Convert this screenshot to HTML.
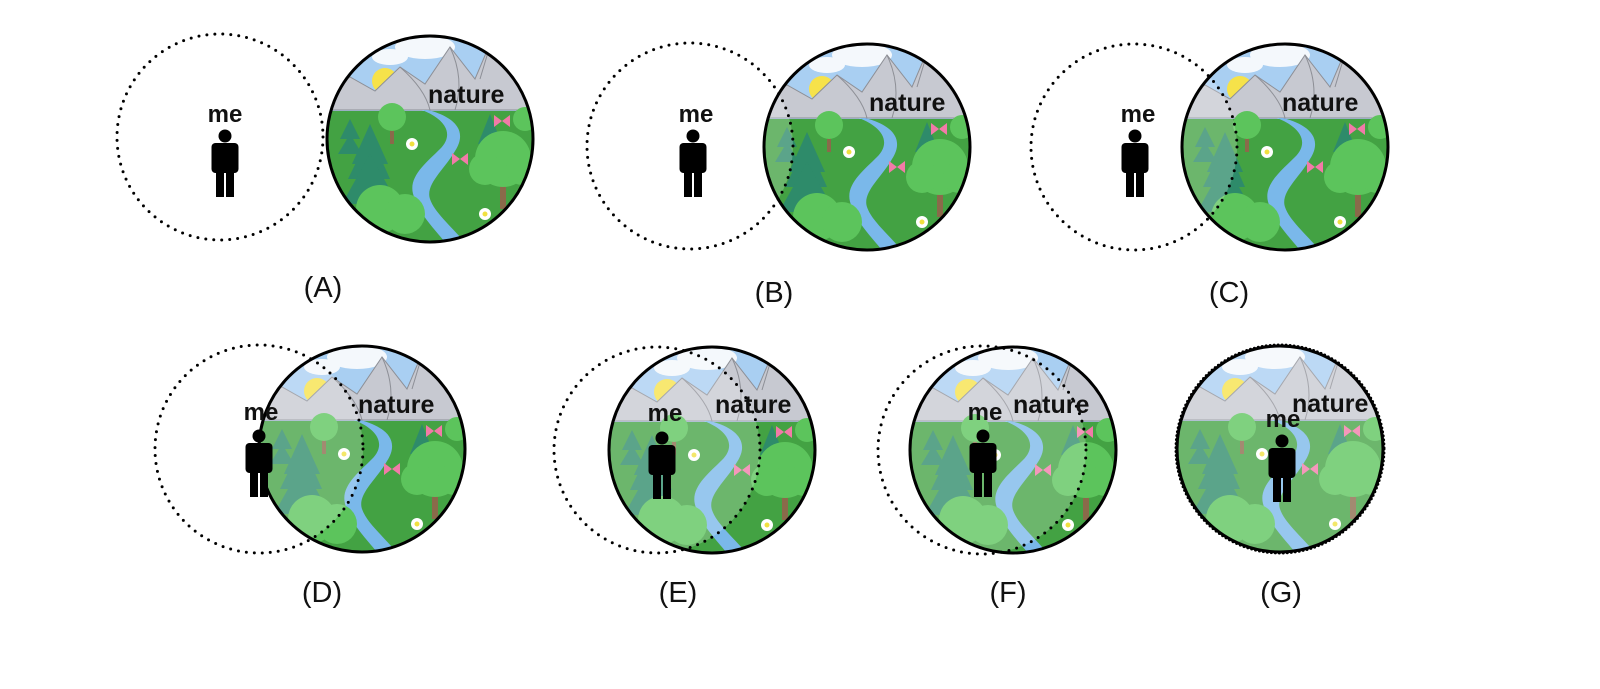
<!DOCTYPE html>
<html><head><meta charset="utf-8"><style>
html,body{margin:0;padding:0;background:#fff;}
svg{display:block;}
text{font-family:"Liberation Sans",Arial,sans-serif;}
.t{font-weight:bold;font-size:24px;fill:#111;}
.n{font-weight:bold;font-size:25px;fill:#111;}
.l{font-size:29px;fill:#111;}
</style></head><body>
<svg width="1600" height="689" viewBox="0 0 1600 689" xmlns="http://www.w3.org/2000/svg">
<defs>
<clipPath id="cc"><circle cx="0" cy="0" r="103"/></clipPath>
<g id="nat">
 <g clip-path="url(#cc)">
  <rect x="-110" y="-110" width="220" height="220" fill="#43a243"/>
  <rect x="-110" y="-110" width="220" height="82" fill="#a9cff2"/>
  <ellipse cx="-5" cy="-92" rx="30" ry="12" fill="#f4f8fc"/>
  <ellipse cx="-40" cy="-82" rx="18" ry="8" fill="#f4f8fc"/>
  <circle cx="-45" cy="-58" r="13" fill="#f6e24a"/>
  <polygon points="-110,-45 -80,-62 -55,-48 -30,-72 -5,-55 20,-92 45,-60 62,-100 90,-80 110,-60 110,-29 -110,-29" fill="#c7c9d1" stroke="#8d8f96" stroke-width="1"/>
  <path d="M-30,-72 Q-5,-50 0,-29 M20,-92 Q35,-60 25,-29 M62,-100 L50,-60" stroke="#8d8f96" fill="none"/>
  <path d="M-8,-29 C15,-20 25,-5 10,10 C-5,25 -25,40 -15,60 C-8,80 10,95 20,110 L40,110 C25,90 5,75 0,60 C-5,45 15,30 25,12 C38,-8 25,-22 -2,-29 Z" fill="#7ab8ea"/>
  <rect x="-40" y="-20" width="4" height="25" fill="#8a6a4a"/>
  <circle cx="-38" cy="-22" r="14" fill="#5cc45c"/>
  <polygon points="-80,-5 -92,15 -68,15" fill="#2e8b6a"/>
  <polygon points="-80,-20 -90,0 -70,0" fill="#2e8b6a"/>
  <polygon points="-60,-5 -82,40 -50,40 -40,40" fill="#2e8b6a"/>
  <polygon points="-60,-15 -78,25 -42,25" fill="#2e8b6a"/>
  <polygon points="-60,15 -88,65 -32,65" fill="#2e8b6a"/>
  <polygon points="60,-25 48,5 72,5" fill="#2e8b6a"/>
  <polygon points="60,-10 45,20 75,20" fill="#2e8b6a"/>
  <rect x="70" y="20" width="6" height="50" fill="#8a6a4a"/>
  <circle cx="73" cy="20" r="28" fill="#5cc45c"/>
  <circle cx="55" cy="30" r="16" fill="#5cc45c"/>
  <circle cx="92" cy="30" r="16" fill="#5cc45c"/>
  <circle cx="95" cy="-20" r="12" fill="#5cc45c"/>
  <circle cx="-50" cy="70" r="24" fill="#5cc45c"/>
  <circle cx="-25" cy="75" r="20" fill="#5cc45c"/>
  <circle cx="-18" cy="5" r="6" fill="#fff"/><circle cx="-18" cy="5" r="2.5" fill="#f0e040"/>
  <circle cx="55" cy="75" r="6" fill="#fff"/><circle cx="55" cy="75" r="2.5" fill="#f0e040"/>
  <path d="M72,-18 l-8,-6 l0,12 z M72,-18 l8,-6 l0,12 z" fill="#f27aa8"/>
  <path d="M30,20 l-8,-6 l0,12 z M30,20 l8,-6 l0,12 z" fill="#f27aa8"/>
 </g>
</g>
<g id="per">
 <circle cx="0" cy="6" r="6.5" fill="#000"/>
 <rect x="-13.5" y="13" width="27" height="30" rx="4" fill="#000"/>
 <rect x="-9" y="38" width="8" height="29" fill="#000"/>
 <rect x="1" y="38" width="8" height="29" fill="#000"/>
</g>
</defs>

<!-- A -->
<use href="#nat" x="430" y="139"/>
<circle cx="430" cy="139" r="103" fill="none" stroke="#000" stroke-width="3"/>
<circle cx="220" cy="137" r="103" fill="none" stroke="#000" stroke-width="3" stroke-dasharray="0 8" stroke-linecap="round"/>
<text class="t" x="225" y="122" text-anchor="middle">me</text>
<use href="#per" x="225" y="130"/>
<text class="n" x="428" y="103">nature</text>
<text class="l" x="323" y="297" text-anchor="middle">(A)</text>

<!-- B -->
<use href="#nat" x="867" y="147"/>
<circle cx="690" cy="146" r="103" fill="#fff" fill-opacity="0.22" clip-path="url(#cB)"/>
<clipPath id="cB"><circle cx="867" cy="147" r="103"/></clipPath>
<circle cx="867" cy="147" r="103" fill="none" stroke="#000" stroke-width="3"/>
<circle cx="690" cy="146" r="103" fill="none" stroke="#000" stroke-width="3" stroke-dasharray="0 8" stroke-linecap="round"/>
<text class="t" x="696" y="122" text-anchor="middle">me</text>
<use href="#per" x="693" y="130"/>
<text class="n" x="869" y="111">nature</text>
<text class="l" x="774" y="302" text-anchor="middle">(B)</text>

<!-- C -->
<clipPath id="cC"><circle cx="1285" cy="147" r="103"/></clipPath>
<use href="#nat" x="1285" y="147"/>
<circle cx="1134" cy="147" r="103" fill="#fff" fill-opacity="0.22" clip-path="url(#cC)"/>
<circle cx="1285" cy="147" r="103" fill="none" stroke="#000" stroke-width="3"/>
<circle cx="1134" cy="147" r="103" fill="none" stroke="#000" stroke-width="3" stroke-dasharray="0 8" stroke-linecap="round"/>
<text class="t" x="1138" y="122" text-anchor="middle">me</text>
<use href="#per" x="1135" y="130"/>
<text class="n" x="1282" y="111">nature</text>
<text class="l" x="1229" y="302" text-anchor="middle">(C)</text>

<!-- D -->
<clipPath id="cD"><circle cx="362" cy="449" r="103"/></clipPath>
<use href="#nat" x="362" y="449"/>
<circle cx="259" cy="449" r="104" fill="#fff" fill-opacity="0.22" clip-path="url(#cD)"/>
<circle cx="362" cy="449" r="103" fill="none" stroke="#000" stroke-width="3"/>
<circle cx="259" cy="449" r="104" fill="none" stroke="#000" stroke-width="3" stroke-dasharray="0 8" stroke-linecap="round"/>
<text class="t" x="261" y="420" text-anchor="middle">me</text>
<use href="#per" x="259" y="430"/>
<text class="n" x="358" y="413">nature</text>
<text class="l" x="322" y="602" text-anchor="middle">(D)</text>

<!-- E -->
<clipPath id="cE"><circle cx="712" cy="450" r="103"/></clipPath>
<use href="#nat" x="712" y="450"/>
<circle cx="657" cy="450" r="103" fill="#fff" fill-opacity="0.22" clip-path="url(#cE)"/>
<circle cx="712" cy="450" r="103" fill="none" stroke="#000" stroke-width="3"/>
<circle cx="657" cy="450" r="103" fill="none" stroke="#000" stroke-width="3" stroke-dasharray="0 8" stroke-linecap="round"/>
<text class="t" x="665" y="421" text-anchor="middle">me</text>
<use href="#per" x="662" y="432"/>
<text class="n" x="715" y="413">nature</text>
<text class="l" x="678" y="602" text-anchor="middle">(E)</text>

<!-- F -->
<clipPath id="cF"><circle cx="1013" cy="450" r="103"/></clipPath>
<use href="#nat" x="1013" y="450"/>
<circle cx="982" cy="450" r="104" fill="#fff" fill-opacity="0.22" clip-path="url(#cF)"/>
<circle cx="1013" cy="450" r="103" fill="none" stroke="#000" stroke-width="3"/>
<circle cx="982" cy="450" r="104" fill="none" stroke="#000" stroke-width="3" stroke-dasharray="0 8" stroke-linecap="round"/>
<text class="t" x="985" y="420" text-anchor="middle">me</text>
<use href="#per" x="983" y="430"/>
<text class="n" x="1013" y="413">nature</text>
<text class="l" x="1008" y="602" text-anchor="middle">(F)</text>

<!-- G -->
<use href="#nat" x="1280" y="449"/>
<circle cx="1280" cy="449" r="103" fill="#fff" fill-opacity="0.22"/>
<circle cx="1280" cy="449" r="103" fill="none" stroke="#000" stroke-width="3"/>
<circle cx="1280" cy="449" r="104" fill="none" stroke="#000" stroke-width="3" stroke-dasharray="0 4" stroke-linecap="round"/>
<text class="t" x="1283" y="427" text-anchor="middle">me</text>
<use href="#per" x="1282" y="435"/>
<text class="n" x="1292" y="412">nature</text>
<text class="l" x="1281" y="602" text-anchor="middle">(G)</text>
</svg>
</body></html>
